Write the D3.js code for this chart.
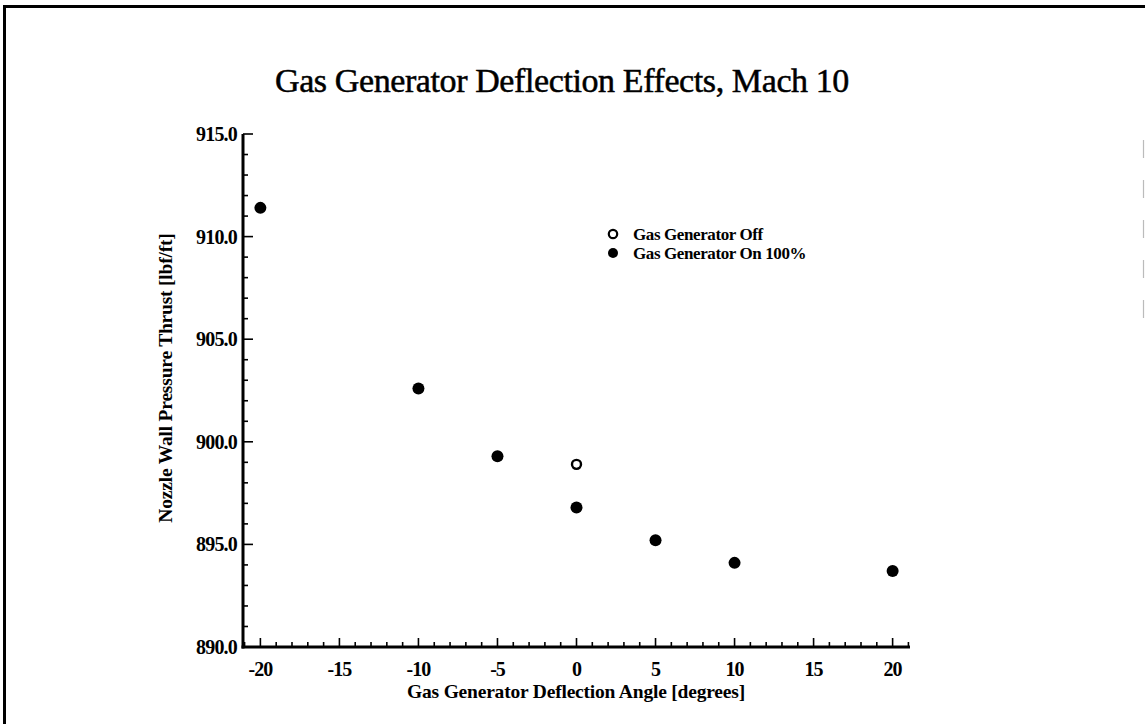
<!DOCTYPE html>
<html>
<head>
<meta charset="utf-8">
<script src="https://cdn.jsdelivr.net/npm/d3@7"></script>
<style>
  html, body { margin: 0; padding: 0; background: #fff; }
  svg { display: block; }
  text { font-family: "Liberation Serif", "DejaVu Serif", serif; fill: #000; }
</style>
</head>
<body>
<script>
// Deflection angle sweep, nozzle wall pressure thrust
const anglesOn = [-20, -10, -5, 0, 5, 10, 20];
const thrustOn = [911.4, 902.6, 899.3, 896.8, 895.2, 894.1, 893.7];
const anglesOff = [0];
const thrustOff = [898.9];
const xTicks = [-20, -15, -10, -5, 0, 5, 10, 15, 20];
const yTicks = [890, 895, 900, 905, 910, 915];
const seriesNames = ["Gas Generator Off", "Gas Generator On 100%"];

const W = 1145, H = 724;
const svg = d3.select("body").append("svg").attr("width", W).attr("height", H);

// outer frame
svg.append("rect")
  .attr("x", 4.5).attr("y", 6.5).attr("width", W + 10).attr("height", H + 10)
  .attr("fill", "none").attr("stroke", "#000").attr("stroke-width", 3);
// faint edge of the neighbouring panel
svg.append("line")
  .attr("x1", 1143.5).attr("x2", 1143.5).attr("y1", 140).attr("y2", 318)
  .attr("stroke", "#bbb").attr("stroke-width", 1.2).attr("stroke-dasharray", "18 22");

const x = d3.scaleLinear().domain([-21.1, 21.1]).range([243, 910]);
const y = d3.scaleLinear().domain([890, 915]).range([647, 134]);

// title
svg.append("text")
  .attr("x", 562).attr("y", 92)
  .attr("text-anchor", "middle")
  .style("font-size", "34px")
  .style("stroke", "#000").style("stroke-width", "0.5px")
  .style("letter-spacing", "-0.4px")
  .text("Gas Generator Deflection Effects, Mach 10");

// minor ticks every unit
const g = svg.append("g");
const xMinor = d3.range(-21, 22, 1);
g.selectAll("line.xm").data(xMinor).join("line")
  .attr("x1", d => x(d)).attr("x2", d => x(d))
  .attr("y1", y(890)).attr("y2", d => y(890) - (d % 5 === 0 ? 9 : 5))
  .attr("stroke", "#000").attr("stroke-width", 1.6);
const yMinor = d3.range(890, 915.01, 1);
g.selectAll("line.ym").data(yMinor).join("line")
  .attr("y1", d => y(d)).attr("y2", d => y(d))
  .attr("x1", x(-21.1)).attr("x2", d => x(-21.1) + (d % 5 === 0 ? 10 : 5))
  .attr("stroke", "#000").attr("stroke-width", 1.6);

// axis lines
g.append("line").attr("x1", x(-21.1)).attr("x2", x(-21.1))
  .attr("y1", y(915)).attr("y2", y(890) + 1.5)
  .attr("stroke", "#000").attr("stroke-width", 3);
g.append("line").attr("x1", x(-21.1) - 1.5).attr("x2", x(21.1))
  .attr("y1", y(890)).attr("y2", y(890))
  .attr("stroke", "#000").attr("stroke-width", 3);

// tick labels
g.selectAll("text.xl").data(xTicks).join("text")
  .attr("x", d => x(d)).attr("y", y(890) + 29)
  .attr("text-anchor", "middle")
  .style("font-size", "20px").style("font-weight", "bold")
  .style("letter-spacing", "-1px")
  .text(d => d);
g.selectAll("text.yl").data(yTicks).join("text")
  .attr("x", 237).attr("y", d => y(d) + 7)
  .attr("text-anchor", "end")
  .style("font-size", "20px").style("font-weight", "bold")
  .style("letter-spacing", "-0.8px")
  .text(d => d3.format(".1f")(d));

// axis titles
svg.append("text")
  .attr("x", 576).attr("y", 698)
  .attr("text-anchor", "middle")
  .style("font-size", "19.5px").style("font-weight", "bold")
  .style("letter-spacing", "-0.2px")
  .text("Gas Generator Deflection Angle [degrees]");
svg.append("text")
  .attr("transform", "translate(172,378) rotate(-90)")
  .attr("text-anchor", "middle")
  .style("font-size", "19.5px").style("font-weight", "bold")
  .style("letter-spacing", "-0.2px")
  .text("Nozzle Wall Pressure Thrust [lbf/ft]");

// data points
svg.selectAll("circle.on").data(anglesOn.map((a, i) => [a, thrustOn[i]])).join("circle")
  .attr("cx", d => x(d[0])).attr("cy", d => y(d[1]))
  .attr("r", 6).attr("fill", "#000");
svg.selectAll("circle.off").data(anglesOff.map((a, i) => [a, thrustOff[i]])).join("circle")
  .attr("cx", d => x(d[0])).attr("cy", d => y(d[1]))
  .attr("r", 4.5).attr("fill", "#fff").attr("stroke", "#000").attr("stroke-width", 2.4);

// legend
const leg = svg.append("g").attr("transform", "translate(613,234)");
leg.append("circle").attr("cx", 0).attr("cy", 0).attr("r", 4.2)
  .attr("fill", "#fff").attr("stroke", "#000").attr("stroke-width", 2.2);
leg.append("circle").attr("cx", 0).attr("cy", 19).attr("r", 5).attr("fill", "#000");
leg.selectAll("text").data(seriesNames).join("text")
  .attr("x", 20).attr("y", (d, i) => i * 19 + 6)
  .style("font-size", "17px").style("font-weight", "bold")
  .style("letter-spacing", "-0.4px")
  .text(d => d);
</script>
</body>
</html>
